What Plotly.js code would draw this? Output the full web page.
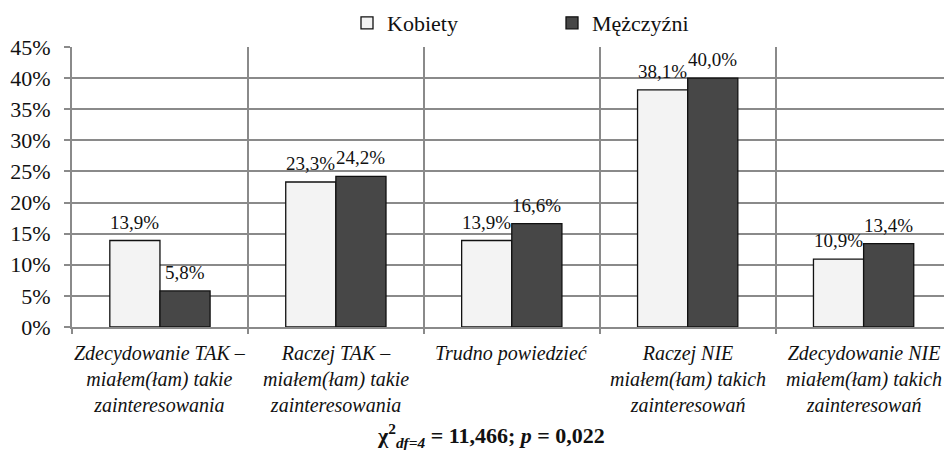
<!DOCTYPE html>
<html>
<head>
<meta charset="utf-8">
<script src="https://cdn.plot.ly/plotly-3.0.1.min.js"></script>
<style>html,body{margin:0;padding:0;background:#fff;}#chart{width:944px;height:450px;}</style>
</head>
<body>
<div id="chart"></div>
<script>
const categories = [
  "Zdecydowanie TAK –<br>miałem(łam) takie<br>zainteresowania",
  "Raczej TAK –<br>miałem(łam) takie<br>zainteresowania",
  "Trudno powiedzieć",
  "Raczej NIE<br>miałem(łam) takich<br>zainteresowań",
  "Zdecydowanie NIE<br>miałem(łam) takich<br>zainteresowań"
];
const seriesNames = ["Kobiety", "Mężczyźni"];
const kobiety = [13.9, 23.3, 13.9, 38.1, 10.9];
const mezczyzni = [5.8, 24.2, 16.6, 40.0, 13.4];
const yTickVals = [0, 5, 10, 15, 20, 25, 30, 35, 40, 45];
const statTitle = "χ<sup>2</sup><sub><i>df=4</i></sub> = 11,466; <i>p</i> = 0,022";

const idx = categories.map((c, i) => i);
const bargap = 0.43;
const barW = (1 - bargap) / 2;
const serif = "Liberation Serif";
const ink = "#111111";
const gridC = "#8a8a8a";
const xRange = [-0.5, 4.457];

const traces = [
  {type: "bar", name: seriesNames[0], x: idx, y: kobiety,
   marker: {color: "#f3f3f3", line: {color: ink, width: 1.3}}, hoverinfo: "none"},
  {type: "bar", name: seriesNames[1], x: idx, y: mezczyzni,
   marker: {color: "#474747", line: {color: ink, width: 1.3}}, hoverinfo: "none"},
  {type: "scatter", x: [0], y: [0], xaxis: "x2", yaxis: "y", mode: "markers",
   marker: {opacity: 0}, showlegend: false, hoverinfo: "skip"}
];

const fmt = v => v.toFixed(1).replace(".", ",") + "%";
const annotations = [];
[kobiety, mezczyzni].forEach((arr, s) => {
  arr.forEach((v, i) => {
    annotations.push({
      x: i + (s === 0 ? -barW / 2 : barW / 2), y: v, xref: "x", yref: "y",
      text: fmt(v), showarrow: false, yanchor: "bottom", yshift: 6,
      font: {family: serif, size: 19, color: ink}
    });
  });
});
categories.forEach((c, i) => {
  annotations.push({
    x: i, xref: "x", y: 0, yref: "y", yanchor: "top", yshift: -13,
    text: "<i>" + c.split("<br>").join("</i><br><i>") + "</i>", showarrow: false,
    font: {family: serif, size: 20, color: ink}, align: "center"
  });
});
annotations.push({
  x: (491 - 72) / 872, xref: "paper", y: (327 - 435) / 280, yref: "paper",
  xanchor: "center", yanchor: "middle",
  text: "<b>" + statTitle + "</b>", showarrow: false,
  font: {family: serif, size: 22, color: ink}
});

const layout = {
  width: 944, height: 450,
  margin: {l: 72, r: 0, t: 47, b: 123},
  paper_bgcolor: "#fff", plot_bgcolor: "#fff",
  font: {family: serif, color: ink, size: 20},
  barmode: "group", bargap: bargap, bargroupgap: 0,
  showlegend: true,
  legend: {orientation: "h", x: 347 / 944, xref: "container", y: 1 - 23 / 450, yref: "container",
           xanchor: "left", yanchor: "middle", entrywidth: 160,
           font: {family: serif, size: 22, color: ink},
           itemwidth: 30, traceorder: "normal"},
  xaxis: {
    range: xRange, tickmode: "array", tickvals: idx, showticklabels: false,
    showgrid: false, zeroline: false, showline: true, linecolor: gridC, linewidth: 2,
    ticks: ""
  },
  xaxis2: {
    overlaying: "x", anchor: "y", side: "bottom", range: xRange,
    tickmode: "array", tickvals: [-0.5, 0.5, 1.5, 2.5, 3.5, 4.5],
    showgrid: true, gridcolor: gridC, gridwidth: 2,
    ticks: "outside", ticklen: 6, tickwidth: 2, tickcolor: gridC,
    showticklabels: false, zeroline: false, showline: false
  },
  yaxis: {
    range: [0, 45], tickmode: "array", tickvals: yTickVals,
    ticktext: yTickVals.map(v => v + "%"),
    showgrid: true, gridcolor: gridC, gridwidth: 2,
    showline: true, linecolor: gridC, linewidth: 2,
    ticks: "outside", ticklen: 6, tickwidth: 2, tickcolor: gridC, ticklabelstandoff: 9,
    zeroline: false, tickfont: {family: serif, size: 22, color: ink}
  },
  annotations: annotations
};

Plotly.newPlot("chart", traces, layout, {displayModeBar: false, staticPlot: true});
</script>
</body>
</html>
